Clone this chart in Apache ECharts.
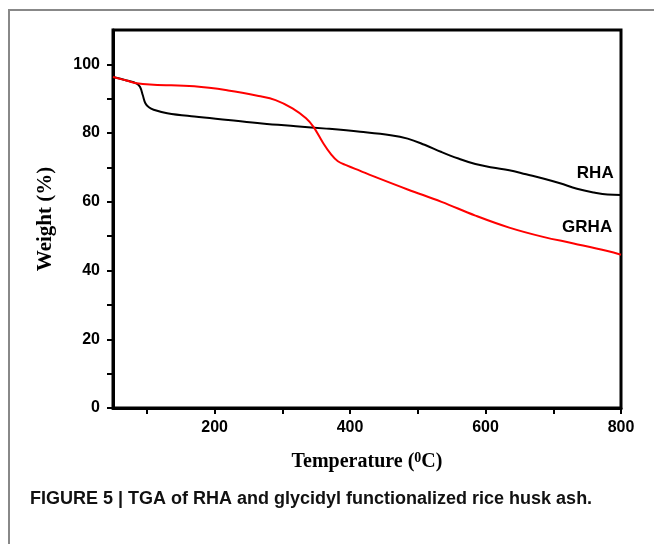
<!DOCTYPE html>
<html>
<head>
<meta charset="utf-8">
<script src="https://cdn.jsdelivr.net/npm/echarts@6/dist/echarts.min.js"></script>
<style>
  html, body { margin: 0; padding: 0; background: #fff; }
  #main { width: 654px; height: 544px; }
</style>
</head>
<body>
<div id="main"></div>
<script>
// temperature (°C) and weight (%)
var tempRHA = [50, 70, 85, 90, 94, 98, 103, 110, 130, 170, 220, 270, 320, 365, 415, 460, 485, 510, 535, 560, 585, 610, 635, 660, 685, 710, 735, 760, 780, 800];
var weightRHA = [96.3, 95.3, 94.4, 93.4, 91.0, 88.6, 87.5, 86.8, 85.8, 84.8, 83.8, 82.8, 82.0, 81.3, 80.4, 79.4, 78.4, 76.6, 74.5, 72.6, 71.0, 70.0, 69.2, 68.0, 66.8, 65.4, 63.8, 62.7, 62.1, 62.0];

var tempGRHA = [50, 70, 85, 110, 170, 220, 265, 290, 315, 335, 346, 360, 372, 382, 395, 415, 435, 485, 535, 585, 635, 685, 730, 780, 800];
var weightGRHA = [96.3, 95.3, 94.5, 94.1, 93.6, 92.4, 90.8, 89.6, 87.2, 84.3, 81.8, 77.2, 73.8, 71.8, 70.6, 69.0, 67.4, 63.6, 60.0, 56.0, 52.5, 49.8, 47.9, 45.7, 44.6];

var xTicks = [100, 200, 300, 400, 500, 600, 700, 800];
var xLabels = [200, 400, 600, 800];
var yTicks = [0, 10, 20, 30, 40, 50, 60, 70, 80, 90, 100];
var yLabels = [0, 20, 40, 60, 80, 100];

function pairs(xs, ys) {
  return xs.map(function (x, i) { return [x, ys[i]]; });
}

var chart = echarts.init(document.getElementById('main'));

var labelFont = {
  fontFamily: 'Liberation Sans, Arial, sans-serif',
  fontWeight: 'bold',
  fontSize: 16,
  color: '#000'
};

chart.setOption({
  backgroundColor: '#fff',
  animation: false,
  title: {
    text: 'FIGURE 5 | TGA of RHA and glycidyl functionalized rice husk ash.',
    left: 25,
    top: 485,
    textStyle: {
      fontFamily: 'Liberation Sans, Arial, sans-serif',
      fontWeight: 'bold',
      fontSize: 18,
      color: '#111'
    }
  },
  graphic: [
    {
      type: 'rect',
      shape: { x: 9, y: 10, width: 700, height: 600 },
      style: { fill: 'none', stroke: '#888', lineWidth: 2 },
      silent: true
    }
  ],
  grid: {
    left: 113,
    right: 33,
    top: 30,
    bottom: 136,
    show: true,
    borderColor: '#000',
    borderWidth: 3,
    backgroundColor: 'transparent'
  },
  xAxis: {
    type: 'value',
    min: 50,
    max: 800,
    name: 'Temperature ({sup|0}C)',
    nameLocation: 'middle',
    nameGap: 43,
    nameTextStyle: {
      fontFamily: 'Liberation Serif, Times New Roman, serif',
      fontWeight: 'bold',
      fontSize: 20,
      color: '#000',
      lineHeight: 22,
      rich: {
        sup: {
          fontFamily: 'Liberation Serif, Times New Roman, serif',
          fontWeight: 'bold',
          fontSize: 14,
          color: '#000',
          verticalAlign: 'top',
          lineHeight: 22
        }
      }
    },
    axisLine: { lineStyle: { color: '#000', width: 3 } },
    axisTick: { show: true, length: 6, lineStyle: { width: 2, color: '#000' }, customValues: xTicks },
    axisLabel: Object.assign({ margin: 12, customValues: xLabels }, labelFont),
    splitLine: { show: false }
  },
  yAxis: {
    type: 'value',
    min: 0,
    max: 110,
    name: 'Weight (%)',
    nameLocation: 'middle',
    nameRotate: 90,
    nameGap: 57,
    nameTextStyle: {
      fontFamily: 'Liberation Serif, Times New Roman, serif',
      fontWeight: 'bold',
      fontSize: 21,
      color: '#000'
    },
    axisLine: { show: true, lineStyle: { color: '#000', width: 3 } },
    axisTick: { show: true, length: 6, lineStyle: { width: 2, color: '#000' }, customValues: yTicks },
    axisLabel: Object.assign({ margin: 13, customValues: yLabels }, labelFont),
    splitLine: { show: false }
  },
  series: [
    {
      name: 'RHA',
      type: 'line',
      data: pairs(tempRHA, weightRHA),
      smooth: 0.4,
      showSymbol: false,
      lineStyle: { color: '#000', width: 2 },
      markPoint: {
        symbol: 'circle',
        symbolSize: 0,
        data: [{ coord: [762, 68.3] }],
        label: Object.assign({ show: true, position: 'inside', formatter: 'RHA' }, labelFont, { fontSize: 17 })
      }
    },
    {
      name: 'GRHA',
      type: 'line',
      data: pairs(tempGRHA, weightGRHA),
      smooth: 0.4,
      showSymbol: false,
      lineStyle: { color: '#f00', width: 2 },
      markPoint: {
        symbol: 'circle',
        symbolSize: 0,
        data: [{ coord: [750, 52.6] }],
        label: Object.assign({ show: true, position: 'inside', formatter: 'GRHA' }, labelFont, { fontSize: 17 })
      }
    }
  ]
});
</script>
</body>
</html>
